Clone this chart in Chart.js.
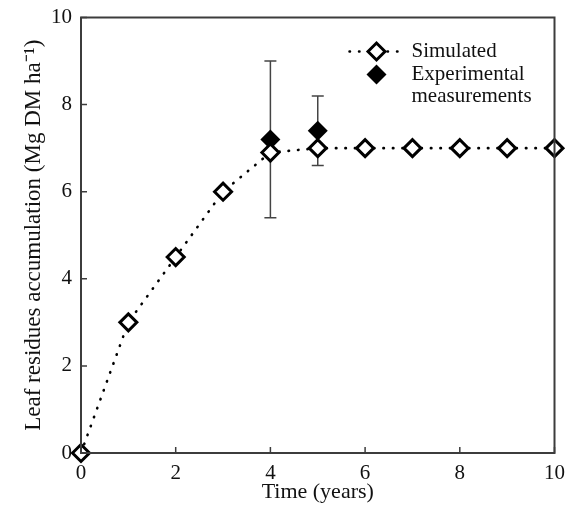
<!DOCTYPE html>
<html>
<head>
<meta charset="utf-8">
<title>Leaf residues accumulation</title>
<script src="https://cdn.jsdelivr.net/npm/chart.js@4"></script>
<style>
  html, body { margin: 0; padding: 0; background: #fff; }
  canvas { display: block; }
</style>
</head>
<body>
<canvas id="residueChart" width="566" height="508"></canvas>
<script>
// simulated accumulation per year
const years = [0, 1, 2, 3, 4, 5, 6, 7, 8, 9, 10];
const simulated = [0, 3, 4.5, 6, 6.9, 7, 7, 7, 7, 7, 7];

// field measurements with their min / max range
const measuredYears = [4, 5];
const measured = [7.2, 7.4];
const measuredLow = [5.4, 6.6];
const measuredHigh = [9.0, 8.2];

const xTicks = [0, 2, 4, 6, 8, 10];
const yTicks = [0, 2, 4, 6, 8, 10];

const serif = "'Liberation Serif', 'Times New Roman', serif";
const axisColor = '#3c3c3c';

// box round the plot plus short inward ticks
const frame = {
    id: 'frame',
    afterDraw(chart) {
        const { ctx, chartArea: a, scales } = chart;
        ctx.save();
        ctx.strokeStyle = axisColor;
        ctx.lineWidth = 2;
        ctx.strokeRect(a.left, a.top, a.right - a.left, a.bottom - a.top);
        ctx.lineWidth = 1.5;
        ctx.beginPath();
        xTicks.forEach(v => {
            const px = scales.x.getPixelForValue(v);
            ctx.moveTo(px, a.bottom);
            ctx.lineTo(px, a.bottom - 6);
        });
        yTicks.forEach(v => {
            const py = scales.y.getPixelForValue(v);
            ctx.moveTo(a.left, py);
            ctx.lineTo(a.left + 6, py);
        });
        ctx.stroke();
        ctx.restore();
    }
};

// vertical range bars behind the measurement markers
const errorBars = {
    id: 'errorBars',
    beforeDatasetsDraw(chart) {
        const { ctx, scales } = chart;
        ctx.save();
        ctx.strokeStyle = '#444';
        ctx.lineWidth = 1.5;
        measuredYears.forEach((yr, i) => {
            const px = scales.x.getPixelForValue(yr);
            const lo = scales.y.getPixelForValue(measuredLow[i]);
            const hi = scales.y.getPixelForValue(measuredHigh[i]);
            ctx.beginPath();
            ctx.moveTo(px, lo);
            ctx.lineTo(px, hi);
            ctx.moveTo(px - 6, lo);
            ctx.lineTo(px + 6, lo);
            ctx.moveTo(px - 6, hi);
            ctx.lineTo(px + 6, hi);
            ctx.stroke();
        });
        ctx.restore();
    }
};

// legend sits inside the plot, top right
const insideLegend = {
    id: 'insideLegend',
    afterDraw(chart) {
        const { ctx, chartArea: a } = chart;
        const cx = a.right - 178;
        const y1 = a.top + 34;
        const y2 = y1 + 23;
        ctx.save();
        ctx.strokeStyle = '#000';
        ctx.lineWidth = 2.5;
        ctx.lineCap = 'round';
        ctx.setLineDash([0.5, 9]);
        ctx.beginPath();
        ctx.moveTo(cx - 27, y1);
        ctx.lineTo(cx + 25, y1);
        ctx.stroke();
        ctx.setLineDash([]);

        const diamond = (x, y, r) => {
            ctx.beginPath();
            ctx.moveTo(x - r, y);
            ctx.lineTo(x, y - r);
            ctx.lineTo(x + r, y);
            ctx.lineTo(x, y + r);
            ctx.closePath();
        };
        diamond(cx, y1, 8.5);
        ctx.fillStyle = '#fff';
        ctx.fill();
        ctx.lineWidth = 3;
        ctx.lineJoin = 'miter';
        ctx.stroke();

        diamond(cx, y2, 10);
        ctx.fillStyle = '#000';
        ctx.fill();

        ctx.fillStyle = '#111';
        ctx.font = '21px ' + serif;
        ctx.textAlign = 'left';
        ctx.textBaseline = 'middle';
        ctx.fillText('Simulated', cx + 35, y1);
        ctx.fillText('Experimental', cx + 35, y2);
        ctx.fillText('measurements', cx + 35, y2 + 22);
        ctx.restore();
    }
};

const ctx = document.getElementById('residueChart').getContext('2d');
const chart = new Chart(ctx, {
    type: 'scatter',
    data: {
        datasets: [{
            label: 'Simulated',
            data: years.map((x, i) => ({ x: x, y: simulated[i] })),
            showLine: true,
            borderColor: '#000',
            borderWidth: 2.6,
            borderDash: [0.5, 9],
            borderCapStyle: 'round',
            pointStyle: 'rectRot',
            pointRadius: 8.5,
            pointBorderWidth: 3,
            pointBackgroundColor: '#fff',
            pointBorderColor: '#000',
            clip: false
        }, {
            label: 'Experimental measurements',
            data: measuredYears.map((x, i) => ({ x: x, y: measured[i] })),
            showLine: false,
            pointStyle: 'rectRot',
            pointRadius: 10,
            pointBorderWidth: 0,
            pointBackgroundColor: '#000',
            pointBorderColor: '#000',
            clip: false
        }]
    },
    options: {
        responsive: false,
        animation: false,
        devicePixelRatio: 1,
        layout: { padding: { top: 17.5, right: 11, left: 0, bottom: 0 } },
        plugins: {
            legend: { display: false },
            tooltip: { enabled: false }
        },
        scales: {
            x: {
                type: 'linear',
                min: 0,
                max: 10,
                afterBuildTicks: s => { s.ticks = xTicks.map(v => ({ value: v })); },
                afterFit: s => {
                    s.height = 55;
                    s.paddingLeft = 0;
                    s.paddingRight = 0;
                },
                grid: { display: false, drawTicks: false },
                border: { display: false },
                ticks: { color: '#111', padding: 8, font: { family: serif, size: 21 } },
                title: {
                    display: true,
                    text: 'Time (years)',
                    color: '#111',
                    font: { family: serif, size: 22 },
                    padding: { top: 0, bottom: 3 }
                }
            },
            y: {
                type: 'linear',
                min: 0,
                max: 10,
                afterBuildTicks: s => { s.ticks = yTicks.map(v => ({ value: v })); },
                afterFit: s => {
                    s.width = 81;
                    s.paddingTop = 0;
                    s.paddingBottom = 0;
                },
                grid: { display: false, drawTicks: false },
                border: { display: false },
                ticks: { color: '#111', padding: 9, font: { family: serif, size: 21 } },
                title: {
                    display: true,
                    text: 'Leaf residues accumulation (Mg DM ha\u207B\u00B9)',
                    color: '#111',
                    font: { family: serif, size: 23 },
                    padding: { top: 20, bottom: 0 }
                }
            }
        }
    },
    plugins: [frame, errorBars, insideLegend]
});
</script>
</body>
</html>
